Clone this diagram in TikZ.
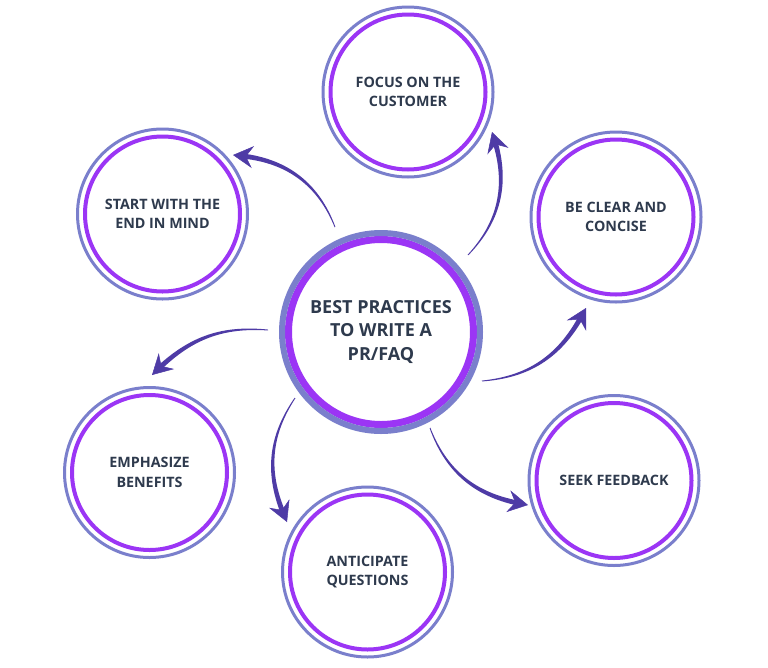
\documentclass[tikz,border=0pt]{standalone}
\usepackage{fontspec}
\setmainfont{Open Sans}
\usetikzlibrary{calc,arrows.meta}
\definecolor{ringblue}{HTML}{7A7FCC}
\definecolor{ringpurple}{HTML}{9B35F5}
\definecolor{arrowcol}{HTML}{4E3BA6}
\definecolor{txt}{HTML}{2E3A4D}
\tikzset{
  satnode/.style={circle, draw=ringpurple, line width=4pt, minimum size=155pt, inner sep=0pt,
    align=center, text=txt, font=\bfseries\fontsize{14.3}{19.5}\selectfont},
  hubnode/.style={circle, draw=ringpurple, line width=7pt, minimum size=185pt, inner sep=0pt,
    align=center, text=txt, font=\bfseries\fontsize{18}{23.5}\selectfont},
  satring/.style={draw=ringblue, line width=3pt},
  hubring/.style={draw=ringblue, line width=6pt},
}
\newcommand\tarrow[3]{%
  \path (#1) to[bend right=#3] coordinate[pos=0.93] (aux) (#2);
  \coordinate (bodyend) at ($(#2)!10pt!(aux)$);
  \fill[arrowcol] ($(#1)!0.5pt!90:(aux)$) to[bend right=#3] ($(bodyend)!2.5pt!90:(#2)$)
     -- ($(bodyend)!2.5pt!-90:(#2)$) to[bend left=#3] ($(#1)!0.5pt!-90:(aux)$) -- cycle;
  \draw[arrowcol, line width=0.5pt, -{Stealth[length=20pt,width=22pt,inset=7pt]}] (aux) -- (#2);
}
\begin{document}
\begin{tikzpicture}[x=1pt,y=1pt]
\useasboundingbox[fill=white] (0,0) rectangle (768,-667);
% hub
\node[hubnode] (hub) at (381,-332) {BEST PRACTICES\\TO WRITE A\\PR/FAQ};
\draw[hubring] (hub.center) circle[radius=99pt];
% satellites
\node[satnode] (focus) at (408,-92) {FOCUS ON THE\\CUSTOMER};
\node[satnode] (start) at (162.5,-214) {START WITH THE\\END IN MIND};
\node[satnode] (clear) at (616,-217) {BE CLEAR AND\\CONCISE};
\node[satnode] (emph) at (149.5,-472.5) {EMPHASIZE\\BENEFITS};
\node[satnode] (antic) at (367.5,-572) {ANTICIPATE\\QUESTIONS};
\node[satnode] (seek) at (614,-480.5) {SEEK FEEDBACK};
\foreach \n in {focus,start,clear,emph,antic,seek}{
  \draw[satring] (\n.center) circle[radius=85pt];
}
% arrow ends
\coordinate (t1) at (335,-227); \coordinate (p1) at (233,-155);
\coordinate (t2) at (468,-255); \coordinate (p2) at (492,-132);
\coordinate (t3) at (482,-381); \coordinate (p3) at (586,-308);
\coordinate (t4) at (268,-330); \coordinate (p4) at (152,-375);
\coordinate (t5) at (295,-398); \coordinate (p5) at (287,-522);
\coordinate (t6) at (430,-428); \coordinate (p6) at (528,-505);
\tarrow{t1}{p1}{31}
\tarrow{t2}{p2}{30}
\tarrow{t3}{p3}{28}
\tarrow{t4}{p4}{24}
\tarrow{t5}{p5}{28}
\tarrow{t6}{p6}{29}
\end{tikzpicture}
\end{document}
